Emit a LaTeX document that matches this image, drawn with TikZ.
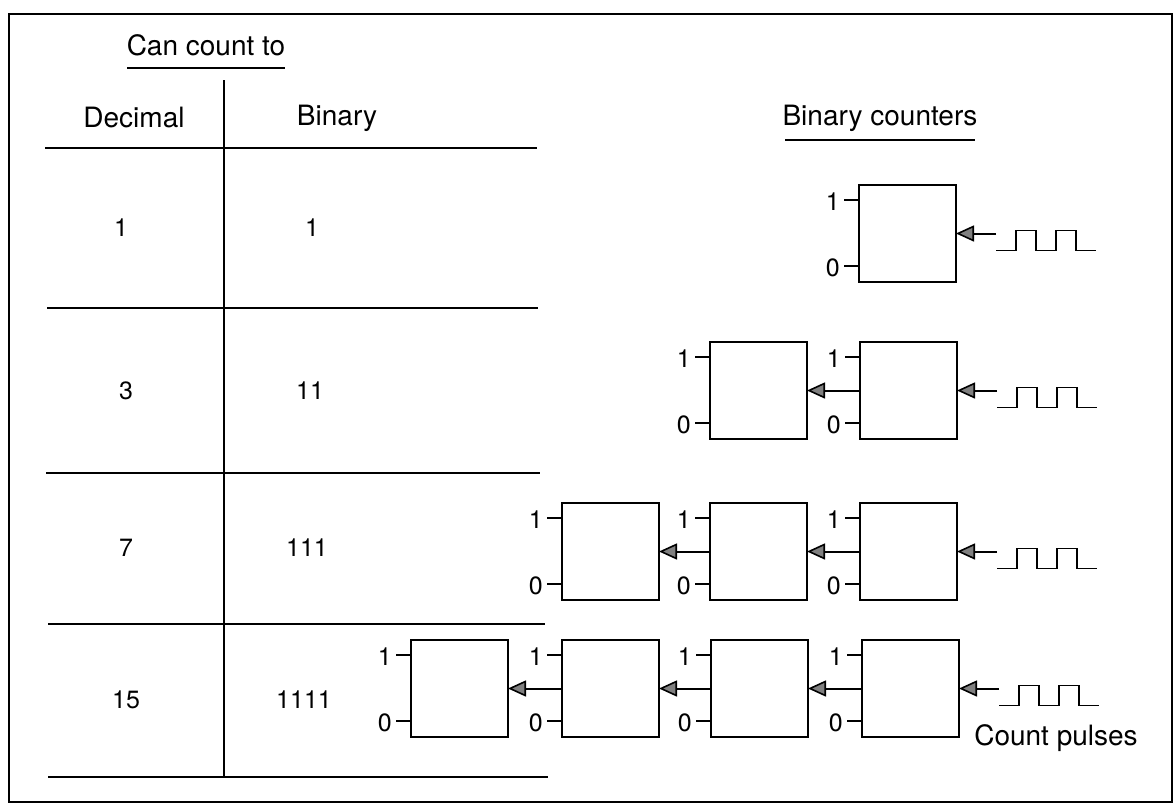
\documentclass[tikz,border=0pt]{standalone}
\usepackage{fontspec}
\setmainfont{TeX Gyre Heros}
\usetikzlibrary{arrows.meta}
\newcommand\counterbox[3]{%
  \node[ctr] (#1) at (#2,#3) {};
  \draw[rule] ([yshift=-15pt]#1.north west) -- ++(-15,0);
  \draw[rule] ([yshift=16pt]#1.south west) -- ++(-15,0);
  \node[bit] at ([xshift=-19pt,yshift=-17pt]#1.north west) {1};
  \node[bit] at ([xshift=-19pt,yshift=14pt]#1.south west) {0};
}
\newcommand\pulsein[1]{%
  \coordinate (#1in) at ([xshift=40pt]#1.east);
  \draw[feed] (#1in) -- (#1.east);
  \draw[pulse] ([xshift=40pt,yshift=-17pt]#1.east) -- ++(20,0) -- ++(0,-20) -- ++(20,0) -- ++(0,20)
     -- ++(20,0) -- ++(0,-20) -- ++(20,0) -- ++(0,20) -- ++(20,0);
}
\begin{document}
\begin{tikzpicture}[x=1pt,y=-1pt,
  rule/.style={line width=2pt},
  ctr/.style={draw, line width=2pt, minimum width=97pt, minimum height=97pt, inner sep=0pt, outer sep=0pt, anchor=north west},
  lbl/.style={font=\fontsize{28}{32}\selectfont, inner sep=0pt},
  num/.style={font=\fontsize{25}{30}\selectfont, inner sep=0pt},
  bit/.style={font=\fontsize{25}{30}\selectfont, inner sep=0pt, anchor=east},
  feed/.style={line width=2pt, -{Triangle[length=18pt,width=16pt,fill=black!50,line width=1.6pt]}},
  pulse/.style={line width=1.8pt}]
\useasboundingbox (0,0) rectangle (1175,808);
% border
\draw[line width=2.4pt] (9,14) rectangle (1172,802);
% table
\node[lbl] (cc) at (206,45) {Can count to};
\draw[rule] (127,68) -- (285,68);
\draw[rule] (224,80) -- (224,777);
\node[lbl] (dec) at (134,118) {Decimal};
\node[lbl] (bin) at (337,118) {Binary};
\draw[rule] (45,148) -- (537,148);
\draw[rule] (47,308) -- (538,308);
\draw[rule] (46,473) -- (540,473);
\draw[rule] (48,624) -- (545,624);
\draw[rule] (48,777) -- (548,777);
\node[num] (d1) at (121,228) {1};
\node[num] (b1) at (312,228) {1};
\node[num] (d3) at (126,391) {3};
\node[num] (b3) at (310,391) {11};
\node[num] (d7) at (126,548) {7};
\node[num] (b7) at (307,548) {111};
\node[num] (d15) at (126,700) {15};
\node[num] (b15) at (304,700) {1111};
% counters header
\node[lbl] (bc) at (880,118) {Binary counters};
\draw[rule] (785,140) -- (975,140);
% row 1
\counterbox{ra}{859}{185}
\pulsein{ra}
% row 2
\counterbox{rba}{710}{342}
\counterbox{rbb}{860}{342}
\draw[feed] (rbb.west) -- (rba.east);
\pulsein{rbb}
% row 3
\counterbox{rca}{562}{503}
\counterbox{rcb}{710}{503}
\counterbox{rcc}{860}{503}
\draw[feed] (rcb.west) -- (rca.east);
\draw[feed] (rcc.west) -- (rcb.east);
\pulsein{rcc}
% row 4
\counterbox{rda}{411}{640}
\counterbox{rdb}{562}{640}
\counterbox{rdc}{711}{640}
\counterbox{rdd}{862}{640}
\draw[feed] (rdb.west) -- (rda.east);
\draw[feed] (rdc.west) -- (rdb.east);
\draw[feed] (rdd.west) -- (rdc.east);
\pulsein{rdd}
\node[lbl] (cp) at (1056,738) {Count pulses};
\end{tikzpicture}
\end{document}
